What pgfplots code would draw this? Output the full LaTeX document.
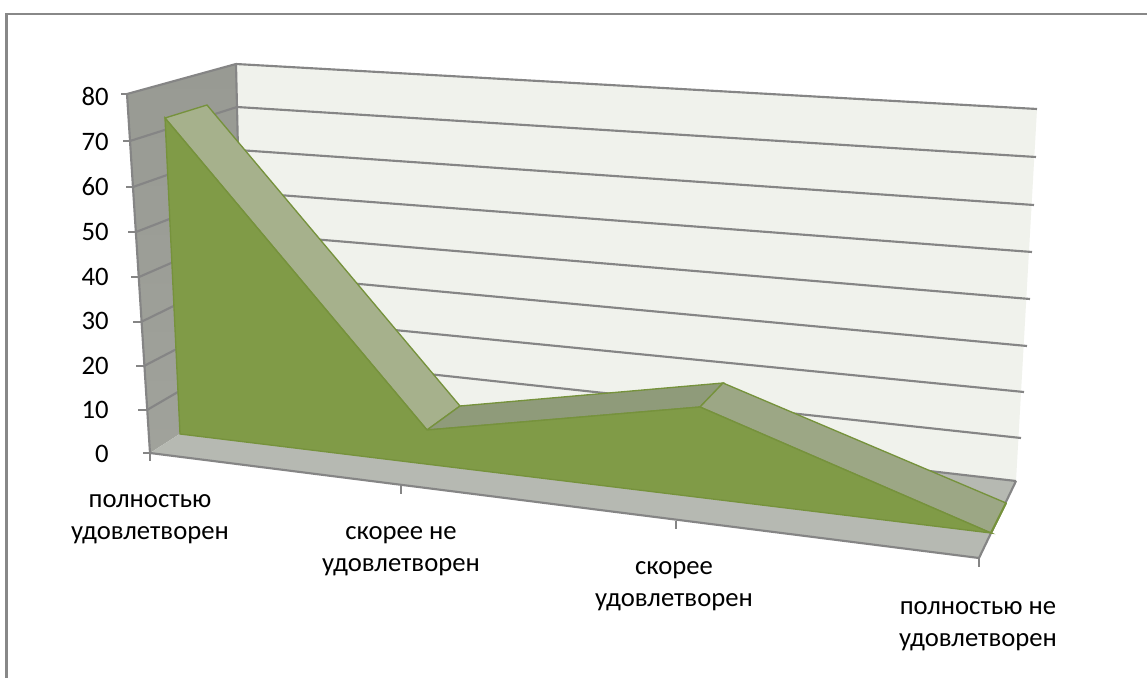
\documentclass[border=0pt]{standalone}
\usepackage{pgfplots}
\pgfplotsset{compat=1.18}
\usepackage{fontspec}
\setmainfont{Carlito}
\definecolor{frameC}{HTML}{888888}
\definecolor{backW}{HTML}{F0F2EC}
\definecolor{floorC}{HTML}{B6B9B2}
\definecolor{sideTop}{HTML}{989A93}
\definecolor{sideBot}{HTML}{A0A29B}
\definecolor{gridC}{HTML}{858585}
\definecolor{greenF}{HTML}{809B47}
\definecolor{greenE}{HTML}{76923C}
\definecolor{stripA}{HTML}{A6B18C}
\definecolor{stripB}{HTML}{8F9B7A}
\definecolor{stripC}{HTML}{9CA785}
\begin{document}
\begin{tikzpicture}[lab/.style={font=\fontsize{20}{24}\selectfont,align=center,text=black,inner sep=0pt}]
\begin{axis}[at={(0,0)},anchor=south west,scale only axis,width=860.25pt,height=508.5pt,
  xmin=0,xmax=1147,ymin=0,ymax=678,y dir=reverse,hide axis,clip=true]
% page
\addplot[fill=white,draw=none] coordinates {(0,0) (1147,0) (1147,678) (0,678)} --cycle;
% chart frame
\addplot[draw=frameC,line width=1.6pt] coordinates {(6.5,678) (6.5,14) (1147,14)};
% back wall
\addplot[fill=backW,draw=none] coordinates {(236,64) (1037,109) (1016,481) (245,392)} --cycle;
% side wall
\addplot[draw=none,top color=sideTop,bottom color=sideBot] coordinates {(127,94) (236,64) (245,392) (150,453)} --cycle;
% floor
\addplot[fill=floorC,draw=none] coordinates {(150,453) (245,392) (1016,481) (979,558)} --cycle;
% back gridlines
\addplot[gridC,line width=1.6pt] coordinates {(236,64) (1037,109)};
\addplot[gridC,line width=1.6pt] coordinates {(237,107) (1036,157)};
\addplot[gridC,line width=1.6pt] coordinates {(238,150) (1034,205)};
\addplot[gridC,line width=1.6pt] coordinates {(239,192) (1032,252)};
\addplot[gridC,line width=1.6pt] coordinates {(240,233) (1030,299)};
\addplot[gridC,line width=1.6pt] coordinates {(241,273) (1027,346)};
\addplot[gridC,line width=1.6pt] coordinates {(242,315) (1024,392)};
\addplot[gridC,line width=1.6pt] coordinates {(243,354) (1021,438)};
\addplot[gridC,line width=1.6pt] coordinates {(245,392) (1016,481)};
% side gridlines
\addplot[gridC,line width=1.6pt] coordinates {(127,94) (236,64)};
\addplot[gridC,line width=1.6pt] coordinates {(130,141) (237,107)};
\addplot[gridC,line width=1.6pt] coordinates {(133,187) (238,150)};
\addplot[gridC,line width=1.6pt] coordinates {(136,232) (239,192)};
\addplot[gridC,line width=1.6pt] coordinates {(139,277) (240,233)};
\addplot[gridC,line width=1.6pt] coordinates {(141,322) (241,273)};
\addplot[gridC,line width=1.6pt] coordinates {(144,366) (242,315)};
\addplot[gridC,line width=1.6pt] coordinates {(147,410) (243,354)};
% axis lines and ticks
\addplot[gridC,line width=1.6pt] coordinates {(127,94) (150,453) (979,558) (1016,481)};
\addplot[gridC,line width=1.6pt] coordinates {(236,64) (238,150)};
\addplot[gridC,line width=1.6pt] coordinates {(121,94) (127,94)};
\addplot[gridC,line width=1.6pt] coordinates {(123,141) (130,141)};
\addplot[gridC,line width=1.6pt] coordinates {(126,187) (133,187)};
\addplot[gridC,line width=1.6pt] coordinates {(128,232) (136,232)};
\addplot[gridC,line width=1.6pt] coordinates {(131,277) (139,277)};
\addplot[gridC,line width=1.6pt] coordinates {(133,322) (141,322)};
\addplot[gridC,line width=1.6pt] coordinates {(136,366) (144,366)};
\addplot[gridC,line width=1.6pt] coordinates {(138,410) (147,410)};
\addplot[gridC,line width=1.6pt] coordinates {(143,453) (150,453)};
\addplot[gridC,line width=1.6pt] coordinates {(150,453) (150,461)};
\addplot[gridC,line width=1.6pt] coordinates {(401,486) (401,494)};
\addplot[gridC,line width=1.6pt] coordinates {(676,521) (676,529)};
\addplot[gridC,line width=1.6pt] coordinates {(979,558) (979,567)};
% series: top strips
\addplot[fill=stripA,draw=greenE,line width=1pt] coordinates {(165,118) (207,105) (460,406) (427,430)} --cycle;
\addplot[fill=stripB,draw=greenE,line width=1pt] coordinates {(427,430) (460,406) (723,383) (700,407)} --cycle;
\addplot[fill=stripC,draw=greenE,line width=1pt] coordinates {(700,407) (723,383) (1006,503) (991,533)} --cycle;
% series: front face
\addplot[fill=greenF,draw=greenE,line width=1pt] coordinates {(165,118) (427,430) (700,407) (991,533) (180,434)} --cycle;
\addplot[greenE,line width=1.6pt] coordinates {(991,533) (1006,503)};
% labels
\node[lab,anchor=east] at (axis cs:109,96) {80};
\node[lab,anchor=east] at (axis cs:109,142) {70};
\node[lab,anchor=east] at (axis cs:109,187) {60};
\node[lab,anchor=east] at (axis cs:109,232) {50};
\node[lab,anchor=east] at (axis cs:109,277) {40};
\node[lab,anchor=east] at (axis cs:109,321) {30};
\node[lab,anchor=east] at (axis cs:109,366) {20};
\node[lab,anchor=east] at (axis cs:109,410) {10};
\node[lab,anchor=east] at (axis cs:109,454) {0};
\node[lab] at (axis cs:150,519) {полностью\\удовлетворен};
\node[lab] at (axis cs:401,551) {скорее не\\удовлетворен};
\node[lab] at (axis cs:674,586) {скорее\\удовлетворен};
\node[lab] at (axis cs:978,626) {полностью не\\удовлетворен};
\end{axis}
\end{tikzpicture}
\end{document}
